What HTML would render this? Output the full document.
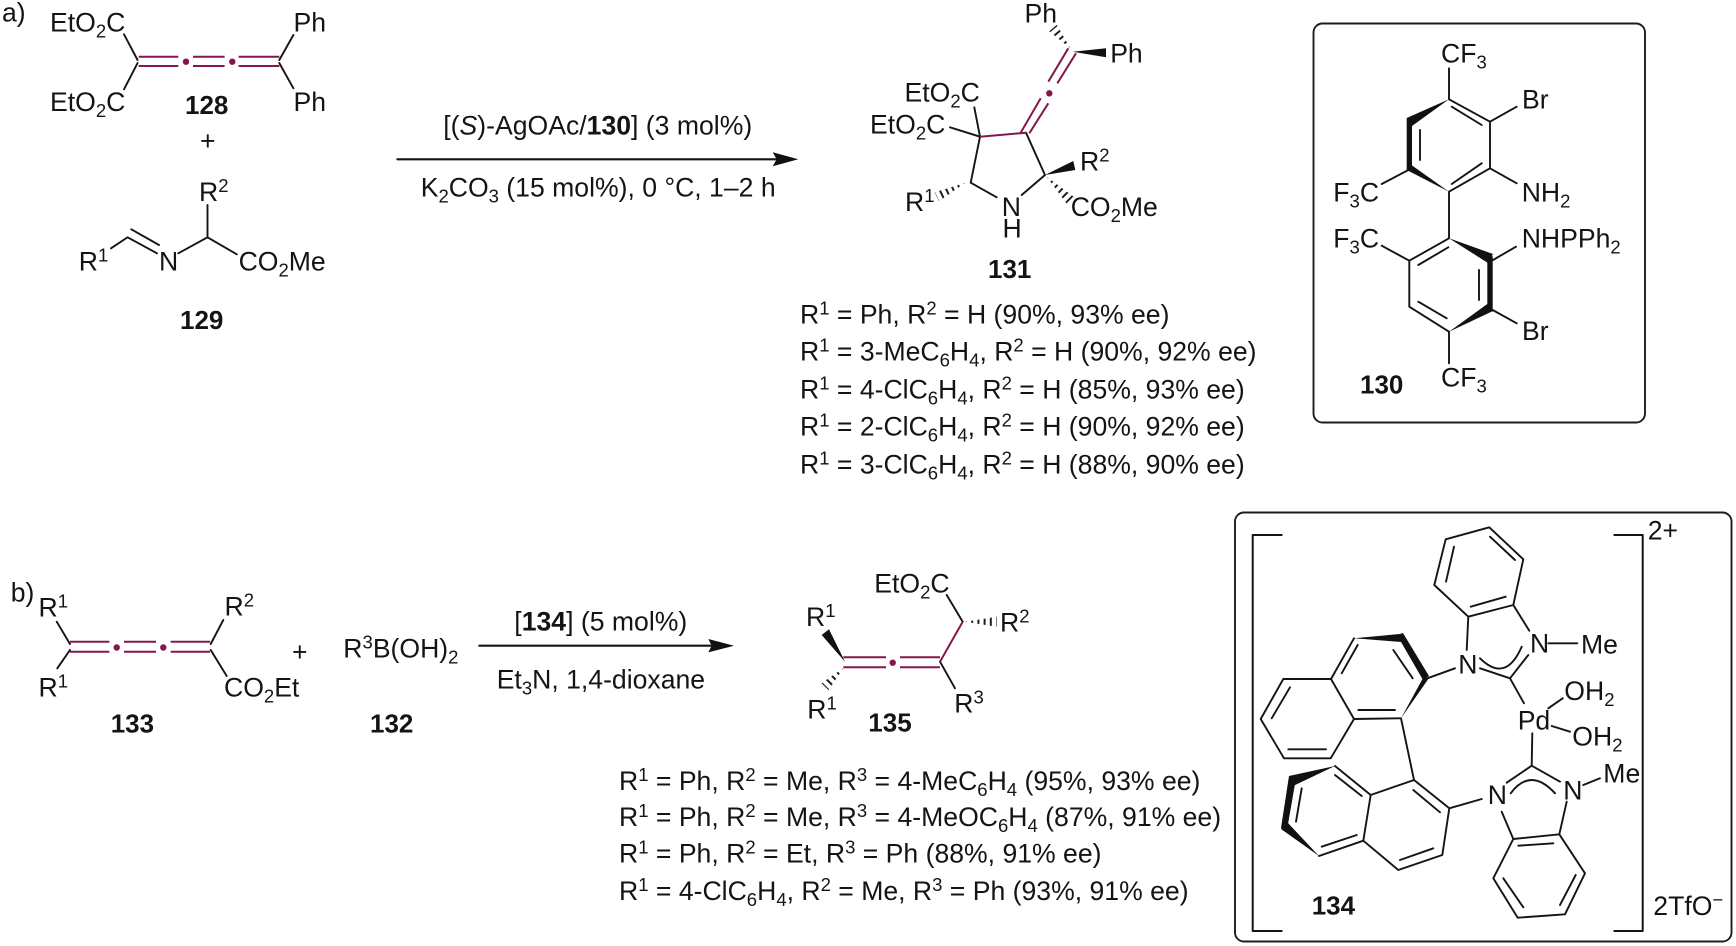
<!DOCTYPE html>
<html><head><meta charset="utf-8"><title>Scheme</title>
<style>
html,body{margin:0;padding:0;background:#fff;width:1736px;height:946px;overflow:hidden}
svg{display:block}
text{font-family:"Liberation Sans",Arial,sans-serif;font-size:26.6px;fill:#141414;white-space:pre}
.n{font-weight:bold;font-size:26px}
.b{font-size:18.5px;baseline-shift:-5.5px}
.p{font-size:18.5px;baseline-shift:9.5px}
.k path,.k line{stroke:#141414;stroke-width:1.9;fill:none;stroke-linecap:round;stroke-linejoin:round}
.m path{stroke:#84184e;stroke-width:2;fill:none}
.d circle{fill:#84184e}
.f polygon,.f path{fill:#111;stroke:none}
.h line{stroke:#1c1c1c;stroke-width:13;stroke-dasharray:2 4.2}
</style></head><body>
<svg xmlns="http://www.w3.org/2000/svg" width="1736" height="946" viewBox="0 0 1736 946">
<defs>
<clipPath id="h1"><polygon points="1070,48 1056.8,24.75 1049.2,31.25"/></clipPath>
<clipPath id="h2"><polygon points="1046.7,176.7 1073.5,196.5 1066.5,203.5"/></clipPath>
<clipPath id="h3"><polygon points="965,183 938.9,201.2 934.5,192.2"/></clipPath>
<clipPath id="h4"><polygon points="965,621.7 996.7,616.7 996.7,626.7"/></clipPath>
<clipPath id="h5"><polygon points="843.3,668.3 828.5,690.2 821.5,683.2"/></clipPath>
</defs>

<!-- boxes -->
<rect x="1313.5" y="23.5" width="331.5" height="399" rx="9" fill="none" stroke="#1c1c1c" stroke-width="1.9"/>
<rect x="1235" y="512.5" width="496.5" height="429" rx="9" fill="none" stroke="#1c1c1c" stroke-width="1.9"/>

<!-- black bonds -->
<g class="k">
<!-- 128 -->
<path d="M124 34.3L137.6 60M124 89.3L137.6 63M293.4 35L279.3 60M293.4 88.3L279.3 63"/>
<!-- 129 -->
<path d="M207.5 205V237.3M178.3 253.3L207.5 237.3L236.8 254.3M111 248.3L127.6 237.3L157 253.3M131.3 229.3L159 245"/>
<!-- 131 -->
<path d="M980 136.7L970.7 182.7L996.7 197.3M1026 132.7L1045 175L1021.7 195M980 136.7L974.3 107.3M980 136.7L950 127.3"/>
<!-- 130 -->
<path d="M1449 68.3V99.3L1490 121.7V168.3L1449 191.7M1451.7 106.7L1481.7 125M1420 130V160M1451.7 184L1481.7 163.3M1490 121.7L1516.7 106.7M1490 168.3L1516.7 183.3M1408.3 170L1381.7 184M1449 191.7V238.3M1449 238.3L1409.3 260.7V306.7L1449 331.7M1448.3 247.3L1418.3 265M1479 270V300M1418.3 301.7L1446.7 318.3M1493 260L1516 246.7M1381.7 245.7L1409.3 260.7M1492.7 310L1516.7 323.3M1449 331.7V363.3"/>
<!-- brackets -->
<path d="M1281.7 535H1252.7V931H1281.7M1614.3 535H1642.7V931H1614.3" style="stroke-width:2"/>
<!-- 134 top benzimidazole -->
<path d="M1489.3 527.3L1523.3 559.3L1513.3 605L1468.3 616.7L1434.3 585L1445.7 539.3ZM1490 536.7L1515 560M1505.7 596.7L1470.7 606.7M1446 581.7L1454 546.7M1468.3 616.7L1466.7 650M1513.3 605L1529.3 630.7M1548.3 643.3H1577.3M1480 668.3L1510 678.3L1528.3 655M1480 658.3Q1505.6 683.5 1521.7 646.7M1510 678.3L1524 703.3"/>
<path d="M1548.3 708.3L1562.7 698.3M1551.7 726L1570 731.7M1532.3 733.3L1531.7 765.7"/>
<!-- bottom NHC -->
<path d="M1506.7 782.7L1531.7 765.7L1560 781.7M1510.7 793.3Q1530.6 766.7 1555 793.3M1513.3 839L1559.3 834.3L1585 873.3L1565 914.3L1517.7 917.7L1493.3 878.3ZM1501.7 811.7L1513.3 839M1566.7 801.7L1559.3 834.3M1518.3 845.7L1553.3 843.3M1575.7 875L1560 905M1523.3 907.3L1503.3 878.3M1583.3 785L1600 778.3"/>
<!-- upper naphthyl -->
<path d="M1354 638.3L1331 679L1354 719L1401 718.3M1331 679H1283.3L1260.7 719L1284 758.3H1330.7L1354 719M1357.7 645L1341.7 673.3M1393.3 650L1412.7 678.3M1395 710H1358.3M1290 687.3L1271.7 718.3M1326 749.3H1288.3M1401 718.3L1414 780M1427.3 678.3L1455 668.3"/>
<!-- lower naphthyl -->
<path d="M1414 780L1449.3 808.3L1442.3 855L1398.3 870L1363.3 840.7L1370.7 795L1414 780M1370.7 795L1335 766M1363.3 840.7L1319 856M1335 775L1361.7 796M1301.7 788.3L1296 821.7M1321.7 846.7L1356.7 835M1413.3 790L1440 812.3M1433.3 848.3L1400 860M1449.3 808.3L1481.7 799"/>
<!-- 135 -->
<path d="M946.7 595L962.7 621.7M940 661.7L955 688.3"/>
<!-- 133 -->
<path d="M56.7 621.7L70 644M57.3 668.3L70 650M223.3 620L210.7 644M210.7 650L226.7 676"/>
<!-- arrows -->
<line x1="397.3" y1="159.3" x2="776" y2="159.3" style="stroke-width:2.1"/>
<line x1="479.3" y1="645.7" x2="712" y2="645.7" style="stroke-width:2.1"/>
</g>

<!-- purple bonds -->
<g class="m">
<path d="M138.7 56.7H178.3M138.7 66H178.3M193 56.7H224.6M193 66H224.6M238.6 56.7H279.3M238.6 66H279.3"/>
<path d="M1068.3 48.3L1048.3 81.7M1076 53.3L1057.3 83.3M1040.7 98.3L1020.7 132.7M1048.3 103.3L1029.3 133.3M980 136.7L1026 132.7"/>
<path d="M70 641.7H109.3M70 651.7H109.3M124 641.7H156M124 651.7H156M170.7 641.7H210M170.7 651.7H210"/>
<path d="M843.3 657.3H886M843.3 667.3H886M900 657.3H940M900 667.3H940M962.7 621.7L940 661.7"/>
</g>
<g class="d">
<circle cx="186" cy="61.7" r="3.2"/><circle cx="232.3" cy="61.7" r="3.2"/>
<circle cx="1049.3" cy="93.3" r="3.2"/>
<circle cx="116.7" cy="647.5" r="3.2"/><circle cx="163.3" cy="647.5" r="3.2"/>
<circle cx="892.7" cy="662.7" r="3.2"/>
</g>

<!-- wedges and arrowheads -->
<g class="f">
<polygon points="798.3,159.3 772.7,152.3 776.7,159.3 772.7,166.3"/>
<polygon points="734,645.7 708.3,639 711.7,645.7 708.3,652.4"/>
<!-- 131 -->
<polygon points="1072.7,51.7 1106,48.3 1106,57.3"/>
<polygon points="1045,175 1073.3,161 1075.3,170"/>
<!-- 135 -->
<polygon points="845,661.7 821.7,635 829,629.3"/>
<!-- 130 -->
<polygon points="1449,99.3 1406.7,118 1412,126"/>
<polygon points="1406.7,118 1412,122 1412,166 1406.7,170"/>
<polygon points="1449,191.7 1406.7,170 1410,164"/>
<polygon points="1449,238.3 1493,254 1488,263"/>
<polygon points="1487.3,258 1492.7,256 1492.7,312 1487.3,306"/>
<polygon points="1449,331.7 1487.3,304 1493,311"/>
<!-- 134 -->
<polygon points="1354,638.3 1400,634 1401,642"/>
<polygon points="1397,635 1403,633 1429,676 1423,680"/>
<polygon points="1401,718.3 1423,678 1429,678"/>
<polygon points="1335,766 1289,776 1293,786"/>
<polygon points="1289,776 1296,778 1287,830 1281,828"/>
<polygon points="1319,856 1281,829 1287,822"/>
</g>
<g class="h">
<line x1="1070" y1="48" x2="1053" y2="28" clip-path="url(#h1)"/>
<line x1="1046.7" y1="176.7" x2="1070" y2="200" clip-path="url(#h2)"/>
<line x1="965" y1="183" x2="936.7" y2="196.7" clip-path="url(#h3)"/>
<line x1="965" y1="621.7" x2="996.7" y2="621.7" clip-path="url(#h4)"/>
<line x1="843.3" y1="668.3" x2="825" y2="686.7" clip-path="url(#h5)"/>
</g>

<!-- panel a -->
<text x="2" y="21.7">a)</text>
<text x="50" y="31.7">EtO<tspan class="b">2</tspan>C</text>
<text x="293.5" y="31.7">Ph</text>
<text x="50" y="111">EtO<tspan class="b">2</tspan>C</text>
<text x="293.5" y="111">Ph</text>
<text x="185" y="114" class="n">128</text>
<text x="200" y="150">+</text>
<text x="199" y="201">R<tspan class="p">2</tspan></text>
<text x="78.8" y="270.7">R<tspan class="p">1</tspan></text>
<text x="159" y="270.7">N</text>
<text x="238.6" y="270.7">CO<tspan class="b">2</tspan>Me</text>
<text x="180" y="329" class="n">129</text>

<text x="443.3" y="134.3">[(<tspan font-style="italic">S</tspan>)-AgOAc/<tspan font-weight="bold">130</tspan>] (3 mol%)</text>
<text x="420.7" y="196.7">K<tspan class="b">2</tspan>CO<tspan class="b">3</tspan> (15 mol%), 0 °C, 1–2 h</text>

<!-- 131 -->
<text x="1024.5" y="22.7">Ph</text>
<text x="1110.2" y="62.3">Ph</text>
<text x="904.5" y="101.7">EtO<tspan class="b">2</tspan>C</text>
<text x="870" y="133.3">EtO<tspan class="b">2</tspan>C</text>
<text x="1080" y="170.7">R<tspan class="p">2</tspan></text>
<text x="1070.7" y="216">CO<tspan class="b">2</tspan>Me</text>
<text x="905" y="211">R<tspan class="p">1</tspan></text>
<text x="1001.7" y="216">N</text>
<text x="1002.5" y="237.3">H</text>
<text x="988" y="278" class="n">131</text>

<text x="800" y="323.3">R<tspan class="p">1</tspan> = Ph, R<tspan class="p">2</tspan> = H (90%, 93% ee)</text>
<text x="800" y="360.7">R<tspan class="p">1</tspan> = 3-MeC<tspan class="b">6</tspan>H<tspan class="b">4</tspan>, R<tspan class="p">2</tspan> = H (90%, 92% ee)</text>
<text x="800" y="398.3">R<tspan class="p">1</tspan> = 4-ClC<tspan class="b">6</tspan>H<tspan class="b">4</tspan>, R<tspan class="p">2</tspan> = H (85%, 93% ee)</text>
<text x="800" y="435.7">R<tspan class="p">1</tspan> = 2-ClC<tspan class="b">6</tspan>H<tspan class="b">4</tspan>, R<tspan class="p">2</tspan> = H (90%, 92% ee)</text>
<text x="800" y="473.3">R<tspan class="p">1</tspan> = 3-ClC<tspan class="b">6</tspan>H<tspan class="b">4</tspan>, R<tspan class="p">2</tspan> = H (88%, 90% ee)</text>

<!-- 130 -->
<text x="1441" y="62.3">CF<tspan class="b">3</tspan></text>
<text x="1522" y="108.3">Br</text>
<text x="1521.7" y="201.7">NH<tspan class="b">2</tspan></text>
<text x="1333.3" y="201.7">F<tspan class="b">3</tspan>C</text>
<text x="1333.3" y="247.7">F<tspan class="b">3</tspan>C</text>
<text x="1521.7" y="247.7">NHPPh<tspan class="b">2</tspan></text>
<text x="1522" y="340">Br</text>
<text x="1441" y="386.7">CF<tspan class="b">3</tspan></text>
<text x="1360" y="393.3" class="n">130</text>

<!-- panel b -->
<text x="10.7" y="601.7">b)</text>
<text x="38.5" y="616.7">R<tspan class="p">1</tspan></text>
<text x="38.5" y="696.7">R<tspan class="p">1</tspan></text>
<text x="224.5" y="615.7">R<tspan class="p">2</tspan></text>
<text x="224" y="696.7">CO<tspan class="b">2</tspan>Et</text>
<text x="292" y="661">+</text>
<text x="343.3" y="657.3">R<tspan class="p">3</tspan>B(OH)<tspan class="b">2</tspan></text>
<text x="110.7" y="732.3" class="n">133</text>
<text x="370" y="732.3" class="n">132</text>

<text x="514.3" y="630.7">[<tspan font-weight="bold">134</tspan>] (5 mol%)</text>
<text x="496.7" y="688.3">Et<tspan class="b">3</tspan>N, 1,4-dioxane</text>

<!-- 135 -->
<text x="874.3" y="592.3">EtO<tspan class="b">2</tspan>C</text>
<text x="1000" y="631.7">R<tspan class="p">2</tspan></text>
<text x="806" y="626">R<tspan class="p">1</tspan></text>
<text x="807.3" y="718.3">R<tspan class="p">1</tspan></text>
<text x="954.3" y="712.3">R<tspan class="p">3</tspan></text>
<text x="868.3" y="731.7" class="n">135</text>

<text x="619" y="790">R<tspan class="p">1</tspan> = Ph, R<tspan class="p">2</tspan> = Me, R<tspan class="p">3</tspan> = 4-MeC<tspan class="b">6</tspan>H<tspan class="b">4</tspan> (95%, 93% ee)</text>
<text x="619" y="826">R<tspan class="p">1</tspan> = Ph, R<tspan class="p">2</tspan> = Me, R<tspan class="p">3</tspan> = 4-MeOC<tspan class="b">6</tspan>H<tspan class="b">4</tspan> (87%, 91% ee)</text>
<text x="619" y="862.7">R<tspan class="p">1</tspan> = Ph, R<tspan class="p">2</tspan> = Et, R<tspan class="p">3</tspan> = Ph (88%, 91% ee)</text>
<text x="619" y="900">R<tspan class="p">1</tspan> = 4-ClC<tspan class="b">6</tspan>H<tspan class="b">4</tspan>, R<tspan class="p">2</tspan> = Me, R<tspan class="p">3</tspan> = Ph (93%, 91% ee)</text>

<!-- 134 -->
<text x="1647.7" y="539.3">2+</text>
<text x="1530" y="652.3">N</text>
<text x="1581" y="653.3">Me</text>
<text x="1458.3" y="673.3">N</text>
<text x="1564.3" y="700">OH<tspan class="b">2</tspan></text>
<text x="1517.7" y="729.3">Pd</text>
<text x="1572.3" y="745.7">OH<tspan class="b">2</tspan></text>
<text x="1603.3" y="782.3">Me</text>
<text x="1563.3" y="799.3">N</text>
<text x="1487.7" y="804">N</text>
<text x="1311.7" y="914.3" class="n">134</text>
<text x="1653.3" y="915">2TfO<tspan class="p">−</tspan></text>
</svg>
</body></html>
